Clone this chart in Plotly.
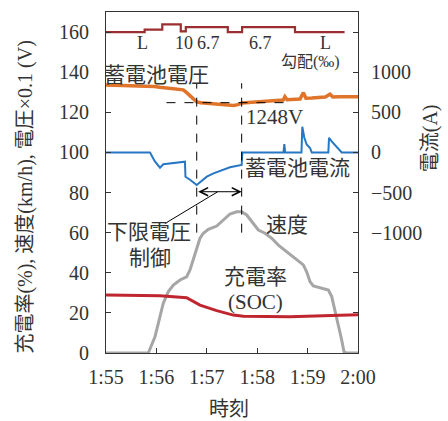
import plotly.graph_objects as go

# ---- data (time in seconds after 1:55:00) ----
tick_seconds = [0, 60, 120, 180, 240, 300]
tick_labels = ["1:55", "1:56", "1:57", "1:58", "1:59", "2:00"]
left_ticks = [0, 20, 40, 60, 80, 100, 120, 140, 160]
current_ticks = [-1000, -500, 0, 500, 1000]

# track gradient profile (schematic level band near the top)
grad_t = [0, 46, 46, 67, 67, 89, 89, 95, 95, 145, 145, 162, 162, 225, 225, 284]
grad_level = [160, 160, 161.2, 161.2, 163.8, 163.8, 160.3, 160.3, 162.5, 162.5,
              160, 160, 162.5, 162.5, 160, 160]

# battery voltage (V)
volt_t = [0, 20, 40, 50, 58, 64, 72, 79, 86, 92, 96, 100, 104, 108, 113, 118, 124, 130,
          136, 142, 147, 152, 157, 162, 170, 177, 186, 195, 203, 211, 213, 215.5, 222,
          231, 235, 238, 245, 255, 261, 266.7, 270, 277, 285, 292, 300]
volt_v = [1336, 1335, 1334, 1333, 1329, 1325, 1321, 1318, 1315, 1312, 1298, 1284, 1268,
          1252, 1248, 1246, 1244, 1242, 1240, 1239, 1236, 1234, 1238, 1246, 1249, 1252,
          1254, 1256, 1259, 1261, 1278, 1263, 1265, 1266, 1298, 1270, 1271, 1272, 1276,
          1290, 1276, 1278, 1278, 1276, 1277]

# battery current (A)
curr_t = [0, 52.4, 58, 64.3, 68.2, 80, 94, 94.6, 100, 108, 113, 120, 128, 135.7, 141,
          147.6, 155, 161.5, 162.3, 211.3, 212.3, 213.3, 232.7, 233.7, 236.1, 238.9,
          242.9, 244.9, 264.7, 265.5, 268.7, 274.6, 280.6, 300]
curr_a = [0, 0, -110, -190, -147, -130, -115, -303, -340, -407, -360, -303, -262, -228,
          -205, -185, -170, -157, 0, 0, 105, 0, 0, 320, 183, 98, 55, 0, 0, 183, 138, 75,
          0, 0]

# train speed (km/h)
speed_t = [0, 50.4, 58.3, 64.3, 68.2, 74.2, 80.2, 88.1, 96.0, 100, 104, 108, 111.9,
           115.9, 121.8, 131.8, 139.7, 147.6, 155.6, 161.5, 167.5, 175.4, 181.4, 189.3,
           197.3, 205.2, 215.1, 227, 234.9, 238.9, 242.9, 246.8, 254.8, 264.7, 268.7,
           272.6, 276.6, 280.6, 283.3, 286.5, 300]
speed_v = [0, 0, 8.1, 18.1, 24.8, 30.6, 33.9, 36.4, 38.0, 41.4, 46.4, 52.2, 57.2, 59.7,
           61.7, 63.3, 66.3, 69.3, 70.4, 70.4, 68.8, 64.7, 61.3, 59.7, 57.2, 53.8, 50.5,
           46.4, 43.9, 40.5, 35.5, 33.4, 32.6, 31.4, 28.1, 21.4, 14.8, 6.5, 0.6, 0, 0]

# state of charge (%)
soc_t = [0, 64.3, 96, 111.9, 131.8, 151.5, 163.5, 219, 258.7, 300]
soc_v = [28.9, 28.6, 27.6, 23.9, 21.1, 18.9, 18.3, 18.1, 18.6, 19.1]

# lower-voltage-limit control window and its voltage
ctrl_start, ctrl_end = 108, 161.5
limit_voltage = 1248

FONT = "'Liberation Serif', 'Times New Roman', 'Noto Sans CJK JP', serif"
INK = "#333333"
C_GRAD = "#9A2E31"
C_VOLT = "#E0742A"
C_CURR = "#2677C4"
C_SPEED = "#A6A6A6"
C_SOC = "#C0262F"

fig = go.Figure()
fig.add_trace(go.Scatter(x=speed_t, y=speed_v, mode="lines",
                         line=dict(color=C_SPEED, width=3)))
fig.add_trace(go.Scatter(x=soc_t, y=soc_v, mode="lines",
                         line=dict(color=C_SOC, width=3)))
fig.add_trace(go.Scatter(x=volt_t, y=[v * 0.1 for v in volt_v], mode="lines",
                         line=dict(color=C_VOLT, width=3.5)))
fig.add_trace(go.Scatter(x=grad_t, y=grad_level, mode="lines",
                         line=dict(color=C_GRAD, width=2.2)))
fig.add_trace(go.Scatter(x=curr_t, y=curr_a, mode="lines", yaxis="y2",
                         line=dict(color=C_CURR, width=2)))

dash = dict(color="black", width=1, dash="dash")
shapes = [
    dict(type="line", x0=ctrl_start, x1=ctrl_start, y0=60, y1=134.5, line=dash),
    dict(type="line", x0=ctrl_end, x1=ctrl_end, y0=60, y1=134.5, line=dash),
    dict(type="line", x0=72, x1=222, y0=limit_voltage * 0.1, y1=limit_voltage * 0.1,
         line=dash),
    dict(type="line", x0=70, x1=133, y0=64.5, y1=80.4, line=dict(color="black", width=1)),
]

txt = dict(family=FONT, size=21, color=INK)
small = dict(family=FONT, size=18, color=INK)
annotations = [
    dict(x=60, y=138.6, text="蓄電池電圧", font=txt),
    dict(x=164, y=117.6, text=f"{limit_voltage}V", font=txt, xanchor="left"),
    dict(x=228.5, y=92.2, text="蓄電池電流", font=txt),
    dict(x=216, y=63.8, text="速度", font=txt),
    dict(x=178.5, y=37.9, text="充電率", font=txt),
    dict(x=178.5, y=25.4, text="(SOC)", font=txt),
    dict(x=51, y=60.3, text="下限電圧", font=txt),
    dict(x=52, y=47.4, text="制御", font=txt),
    dict(x=44, y=154.5, text="L", font=small),
    dict(x=93, y=154.5, text="10", font=small),
    dict(x=122, y=154.5, text="6.7", font=small),
    dict(x=184, y=154.5, text="6.7", font=small),
    dict(x=261, y=154.5, text="L", font=small),
    dict(x=243, y=145, text="勾配(‰)", font=dict(family=FONT, size=16, color=INK)),
    # double-headed arrow marking the control window
    dict(x=ctrl_end, y=80.4, ax=ctrl_start, ay=80.4, axref="x", ayref="y",
         text="", showarrow=True, arrowhead=5, arrowside="end+start",
         arrowsize=1.6, arrowwidth=1, arrowcolor="black", standoff=0, startstandoff=0),
    # axis titles
    dict(xref="paper", yref="paper", x=-0.321, y=0.456,
         text="充電率(%), 速度(km/h), 電圧×0.1 (V)",
         textangle=-90, font=dict(family=FONT, size=20, color=INK)),
    dict(xref="paper", yref="paper", x=1.286, y=0.63, text="電流(A)",
         textangle=-90, font=dict(family=FONT, size=20, color=INK)),
    dict(xref="paper", yref="paper", x=0.49, y=-0.163, text="時刻",
         font=dict(family=FONT, size=20, color=INK)),
]
for a in annotations:
    a.setdefault("showarrow", False)
    a.setdefault("xanchor", "center")
    a.setdefault("yanchor", "middle")

fig.update_layout(
    width=448, height=421,
    margin=dict(l=106, r=90, t=12, b=68),
    paper_bgcolor="white", plot_bgcolor="white",
    showlegend=False,
    font=dict(family=FONT, size=20, color=INK),
    shapes=shapes, annotations=annotations,
    xaxis=dict(range=[0, 300], tickvals=tick_seconds, ticktext=tick_labels,
               ticks="inside", ticklen=5, tickcolor=INK, showline=True,
               linecolor=INK, linewidth=1, mirror=True, showgrid=False,
               zeroline=False, ticklabelstandoff=6,
               tickfont=dict(family=FONT, size=20, color=INK)),
    yaxis=dict(range=[0, 170], tickvals=left_ticks, ticks="inside", ticklen=5,
               tickcolor=INK, showline=True, linecolor=INK, linewidth=1,
               mirror="ticks", showgrid=False, zeroline=False, ticklabelstandoff=12,
               tickfont=dict(family=FONT, size=20, color=INK)),
    yaxis2=dict(range=[-2500, 1750], tickvals=current_ticks, overlaying="y", side="right",
                ticks="", showline=False, showgrid=False, zeroline=False,
                ticklabelstandoff=12,
                tickfont=dict(family=FONT, size=20, color=INK)),
)

fig.write_html("out.html")
